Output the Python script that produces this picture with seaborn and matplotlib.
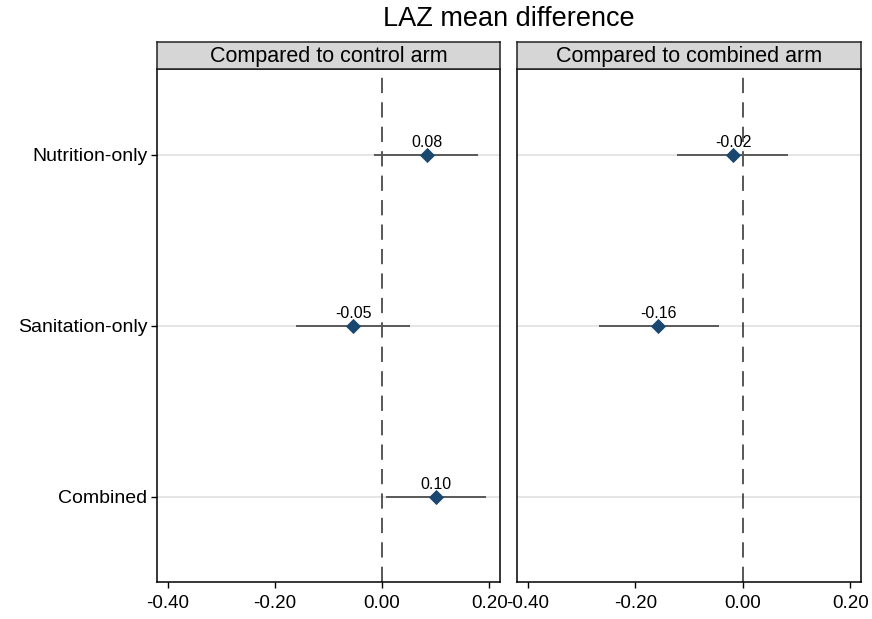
import numpy as np
import pandas as pd
import matplotlib
matplotlib.use("Agg")
import matplotlib.pyplot as plt
import seaborn as sns

# ---------------- data ----------------
categories = ["Nutrition-only", "Sanitation-only", "Combined"]
panel_titles = ["Compared to control arm", "Compared to combined arm"]
est_control = [0.083, -0.054, 0.101]
lo_control = [-0.015, -0.161, 0.008]
hi_control = [0.179, 0.052, 0.194]
est_combined = [-0.018, -0.157, np.nan]
lo_combined = [-0.122, -0.267, np.nan]
hi_combined = [0.085, -0.044, np.nan]
x_ticks = [-0.40, -0.20, 0.00, 0.20]
x_tick_labels = ["-0.40", "-0.20", "0.00", "0.20"]
title = "LAZ mean difference"

# ---------------- style ----------------
sns.set_theme(style="white")
plt.rcParams['font.family'] = ['Liberation Sans', 'DejaVu Sans']
plt.rcParams['text.color'] = 'black'
plt.rcParams['xtick.color'] = 'black'
plt.rcParams['ytick.color'] = 'black'

W, H = 872, 619
fig = plt.figure(figsize=(W / 100, H / 100), dpi=100)


def fx(px):
    return px / W


def fy(py):
    return 1 - py / H


panel_px = [(157, 500), (517, 861)]
top_px, bottom_px, head_top_px = 69, 582, 42
navy = "#1a476f"

ests = [est_control, est_combined]
los = [lo_control, lo_combined]
his = [hi_control, hi_combined]

for i, (x0, x1) in enumerate(panel_px):
    ax = fig.add_axes([fx(x0), fy(bottom_px), fx(x1) - fx(x0), fy(top_px) - fy(bottom_px)])
    df = pd.DataFrame({"category": categories, "est": ests[i], "lo": los[i], "hi": his[i]})
    df["y"] = np.arange(len(categories))

    for y in df["y"]:
        ax.axhline(y, color="#dedede", lw=1.1, zorder=0)
    ax.axvline(0, color="#2a2a2a", lw=1.1, ls=(0, (10, 6)), zorder=1)

    d = df.dropna()
    ax.hlines(d["y"], d["lo"], d["hi"], color="#595959", lw=1.4, zorder=2)
    sns.scatterplot(data=d, x="est", y="y", marker="D", s=60, color=navy,
                    edgecolor=navy, linewidth=0, ax=ax, zorder=3, legend=False)
    for _, r in d.iterrows():
        ax.annotate(f"{r['est']:.2f}", (r["est"], r["y"]), xytext=(0, 5.5),
                    textcoords="offset points", ha="center", va="baseline",
                    fontsize=11.5, color="black", zorder=4)

    ax.set_xlim(-0.42, 0.22)
    ax.set_ylim(len(categories) - 0.5, -0.5)
    ax.set_xticks(x_ticks)
    ax.set_xticklabels(x_tick_labels)
    ax.set_yticks(df["y"])
    if i == 0:
        ax.set_yticklabels(categories)
        ax.tick_params(axis="y", direction="out", length=4, width=1,
                       labelsize=14, pad=3, left=True)
    else:
        ax.set_yticklabels([])
        ax.tick_params(axis="y", left=False)
    ax.set_xlabel("")
    ax.set_ylabel("")
    ax.tick_params(axis="x", direction="out", length=4, width=1,
                   labelsize=13.5, pad=5, bottom=True)
    for sp in ax.spines.values():
        sp.set_color("black")
        sp.set_linewidth(1.1)
    ax.set_facecolor("white")

    hax = fig.add_axes([fx(x0), fy(top_px), fx(x1) - fx(x0), fy(head_top_px) - fy(top_px)])
    hax.set_facecolor("#d6d6d6")
    hax.set_xticks([])
    hax.set_yticks([])
    for sp in hax.spines.values():
        sp.set_color("#222222")
        sp.set_linewidth(1.1)
    hax.text(0.5, 0.45, panel_titles[i], ha="center", va="center", fontsize=15.5,
             transform=hax.transAxes, color="black")

fig.text(fx(509), fy(19), title, ha="center", va="center", fontsize=19.5, color="black")

fig.savefig("out.png", dpi=100, facecolor="white")
